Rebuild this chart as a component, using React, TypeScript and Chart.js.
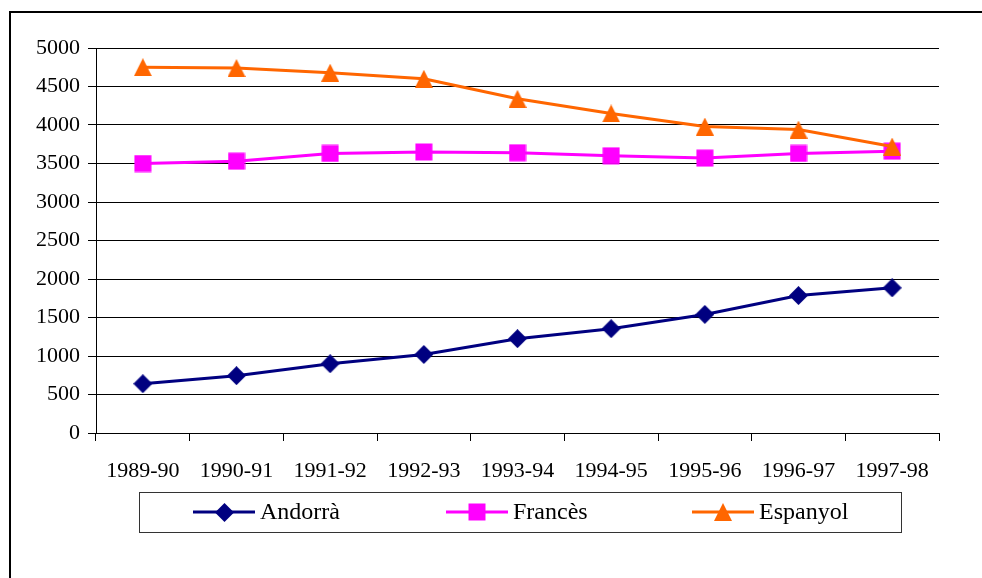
import React, { useEffect, useRef } from 'react';
import { Chart, registerables } from 'chart.js';

Chart.register(...registerables);

const categories = ['1989-90', '1990-91', '1991-92', '1992-93', '1993-94', '1994-95', '1995-96', '1996-97', '1997-98'];
const seriesNames = ['Andorrà', 'Francès', 'Espanyol'];
const andorra = [640, 745, 900, 1020, 1225, 1355, 1540, 1785, 1885];
const frances = [3500, 3530, 3630, 3650, 3640, 3600, 3570, 3630, 3660];
const espanyol = [4750, 4740, 4680, 4600, 4340, 4150, 3980, 3940, 3720];
const yMin = 0;
const yMax = 5000;
const yStep = 500;

const COLORS = ['#000080', '#FF00FF', '#FF6600'];
const FONT = "'Liberation Serif', 'Times New Roman', serif";

function makeMarker(kind: string, color: string): HTMLCanvasElement {
  const c = document.createElement('canvas');
  let w = 18, h = 18;
  if (kind === 'diamond') { w = 19; h = 19; }
  c.width = w;
  c.height = h;
  const ctx = c.getContext('2d')!;
  ctx.fillStyle = color;
  ctx.beginPath();
  if (kind === 'diamond') {
    ctx.moveTo(w / 2, 0);
    ctx.lineTo(w, h / 2);
    ctx.lineTo(w / 2, h);
    ctx.lineTo(0, h / 2);
  } else if (kind === 'square') {
    ctx.rect(0.5, 0.5, w - 1, h - 1);
  } else {
    ctx.moveTo(w / 2, 0);
    ctx.lineTo(w, h);
    ctx.lineTo(0, h);
  }
  ctx.closePath();
  ctx.fill();
  return c;
}

const legendPlugin = {
  id: 'frameLegend',
  afterDraw(chart: any) {
    const ctx = chart.ctx as CanvasRenderingContext2D;
    ctx.save();
    // outer frame
    ctx.fillStyle = '#000';
    ctx.fillRect(9, 11, 2, 600);
    ctx.fillRect(9, 11, 1000, 2);
    // legend box
    ctx.strokeStyle = '#333';
    ctx.lineWidth = 1;
    ctx.strokeRect(139.5, 492.5, 762, 40);
    const starts = [193, 446, 692];
    const cy = 512;
    chart.data.datasets.forEach((ds: any, i: number) => {
      const x0 = starts[i];
      const x1 = x0 + 62;
      ctx.strokeStyle = ds.borderColor;
      ctx.lineWidth = 3;
      ctx.beginPath();
      ctx.moveTo(x0, cy);
      ctx.lineTo(x1, cy);
      ctx.stroke();
      const m = ds.pointStyle as HTMLCanvasElement;
      ctx.drawImage(m, Math.round((x0 + x1) / 2 - m.width / 2), Math.round(cy - m.height / 2));
      ctx.fillStyle = '#000';
      ctx.font = `24px ${FONT}`;
      ctx.textBaseline = 'middle';
      ctx.textAlign = 'left';
      ctx.fillText(ds.label, x1 + 5, cy + 1);
    });
    ctx.restore();
  },
};

export default function App() {
  const ref = useRef<HTMLCanvasElement | null>(null);
  useEffect(() => {
    if (!ref.current) return;
    const markers = [
      makeMarker('diamond', COLORS[0]),
      makeMarker('square', COLORS[1]),
      makeMarker('triangle', COLORS[2]),
    ];
    const values = [andorra, frances, espanyol];
    const orders = [1, 2, 0];
    const chart = new Chart(ref.current, {
      type: 'line',
      data: {
        labels: categories,
        datasets: seriesNames.map((name, i) => ({
          label: name,
          data: values[i],
          borderColor: COLORS[i],
          backgroundColor: COLORS[i],
          borderWidth: 3,
          pointStyle: markers[i] as any,
          pointRadius: 9,
          pointHoverRadius: 9,
          tension: 0,
          fill: false,
          order: orders[i],
        })),
      },
      options: {
        responsive: false,
        animation: false,
        devicePixelRatio: 1,
        layout: { padding: { left: 0, top: 48, right: 43, bottom: 0 } },
        plugins: {
          legend: { display: false },
          tooltip: { enabled: false },
          title: { display: false },
        },
        scales: {
          x: {
            type: 'category',
            offset: true,
            afterFit(scale: any) { scale.height = 145; },
            grid: {
              offset: true,
              drawOnChartArea: false,
              drawTicks: true,
              tickLength: 8,
              color: '#000',
              lineWidth: 1,
            },
            border: { display: true, color: '#000', width: 1 },
            ticks: {
              color: '#000',
              font: { family: FONT, size: 22 },
              padding: 17,
              maxRotation: 0,
              autoSkip: false,
            },
          },
          y: {
            min: yMin,
            max: yMax,
            afterFit(scale: any) { scale.width = 96; },
            grid: {
              color: '#000',
              lineWidth: 1,
              drawTicks: true,
              tickLength: 8,
            },
            border: { display: true, color: '#000', width: 1 },
            ticks: {
              stepSize: yStep,
              color: '#000',
              font: { family: FONT, size: 22 },
              padding: 8,
              callback: (v: any) => String(v),
            },
          },
        },
      },
      plugins: [legendPlugin],
    });
    return () => chart.destroy();
  }, []);
  return (
    <div style={{ position: 'absolute', left: 0, top: 0, width: 982, height: 578, background: '#fff' }}>
      <canvas ref={ref} width={982} height={578} style={{ display: 'block' }} />
    </div>
  );
}
